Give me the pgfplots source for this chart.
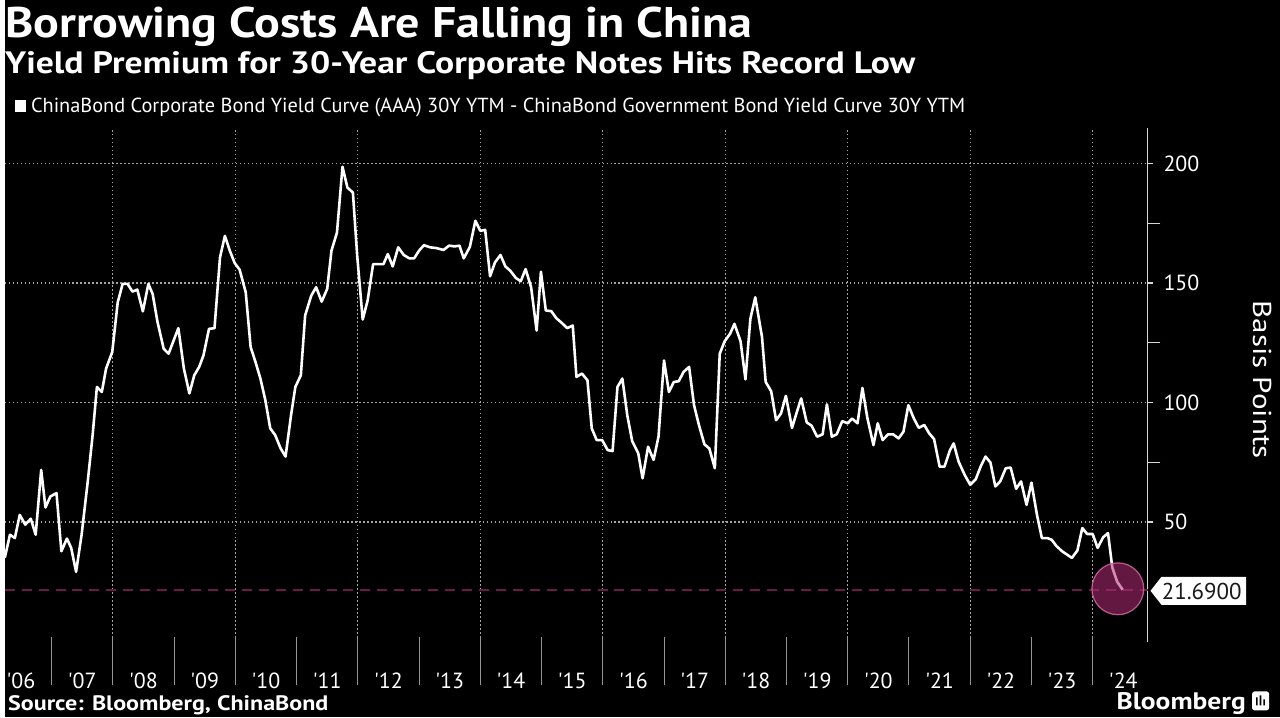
\documentclass[border=0pt]{standalone}
\usepackage{fontspec}
\setmainfont{PT Sans}
\newfontfamily\titlefont[FakeStretch=1.12]{PT Sans}
\newfontfamily\subfont[FakeStretch=1.155]{PT Sans}
\newfontfamily\srcfont[FakeStretch=1.15]{PT Sans}
\newfontfamily\axlabfont[FakeStretch=1.2]{PT Sans}
\usepackage{pgfplots}
\pgfplotsset{compat=1.18}
\definecolor{gridc}{RGB}{165,165,165}
\definecolor{sepc}{RGB}{150,150,150}
\definecolor{refc}{RGB}{105,28,68}
\definecolor{circfill}{RGB}{180,45,120}
\definecolor{circedge}{RGB}{210,105,160}
\definecolor{axc}{RGB}{215,215,215}
\begin{document}
\begin{tikzpicture}
\fill[black] (0pt,0pt) rectangle (640pt,360pt);
\node[anchor=base west, text=white, font=\titlefont\bfseries\fontsize{21.5}{24}\selectfont, inner sep=0] at (0pt,341pt) {Borrowing Costs Are Falling in China};
\node[anchor=base west, text=white, font=\subfont\bfseries\fontsize{15.5}{18}\selectfont, inner sep=0] at (0pt,323pt) {Yield Premium for 30-Year Corporate Notes Hits Record Low};
\fill[white] (5pt,304pt) rectangle (10.5pt,310pt);
\node[anchor=base west, text=white, font=\fontsize{10.2}{12}\selectfont, inner sep=0] at (13pt,303.5pt) {ChinaBond Corporate Bond Yield Curve (AAA) 30Y YTM - ChinaBond Government Bond Yield Curve 30Y YTM};
\begin{axis}[
  at={(0pt,38pt)}, anchor=south west, scale only axis,
  width=573.5pt, height=258pt,
  xmin=2006.235, xmax=2024.895, ymin=0, ymax=215,
  axis x line*=bottom, axis y line*=right,
  x axis line style={draw=none},
  y axis line style={axc, line width=0.6pt},
  tick align=outside,
  major tick length=3pt, minor tick length=6.5pt,
  tick style={axc, line width=0.6pt},
  xtick style={draw=none},
  ytick={50,100,150,200},
  minor ytick={75,125,175},
  xtick={2006.5,2007.5,2008.5,2009.5,2010.5,2011.5,2012.5,2013.5,2014.5,2015.5,2016.5,2017.5,2018.5,2019.5,2020.5,2021.5,2022.5,2023.5,2024.5},
  xticklabels={\textquotesingle06,\textquotesingle07,\textquotesingle08,\textquotesingle09,\textquotesingle10,\textquotesingle11,\textquotesingle12,\textquotesingle13,\textquotesingle14,\textquotesingle15,\textquotesingle16,\textquotesingle17,\textquotesingle18,\textquotesingle19,\textquotesingle20,\textquotesingle21,\textquotesingle22,\textquotesingle23,\textquotesingle24},
  ymajorgrids,
  major grid style={gridc, line width=0.65pt, dash pattern=on 0.75pt off 1.25pt},
  /pgf/number format/assume math mode=true,
  yticklabel style={text=white, font=\fontsize{11}{13}\selectfont, xshift=1.5pt},
  xticklabel style={text=white, font=\fontsize{11}{13}\selectfont, anchor=center, yshift=-16.5pt},
  clip=false,
]
\pgfplotsinvokeforeach{2008,2010,2012,2014,2016,2018,2020,2022,2024}{
  \draw[gridc, line width=0.65pt, dash pattern=on 0.75pt off 1.25pt] (axis cs:#1,0) -- (axis cs:#1,215);
}
\pgfplotsinvokeforeach{2007,2008,2009,2010,2011,2012,2013,2014,2015,2016,2017,2018,2019,2020,2021,2022,2023,2024}{
  \draw[sepc, line width=0.5pt] (axis cs:#1,2) -- ([yshift=-24pt]axis cs:#1,2);
}
\addplot[refc, line width=1pt, dash pattern=on 5pt off 3.5pt] coordinates {(2006.235,21.69) (2024.895,21.69)};
\addplot[white, line width=1.3pt, line join=round] table {
2006.235 35
2006.32 44.7
2006.40 43.3
2006.48 53
2006.57 48.9
2006.66 51.4
2006.74 44.7
2006.83 71.8
2006.90 56.1
2006.98 60.7
2007.08 62.1
2007.16 37.8
2007.25 43.1
2007.32 39.2
2007.40 29.2
2007.49 44.7
2007.59 66.9
2007.67 86.4
2007.74 106.5
2007.82 104.4
2007.89 114.2
2007.99 121.1
2008.08 141.9
2008.16 149.6
2008.24 149.6
2008.32 146.4
2008.40 147.2
2008.49 138.1
2008.58 149.6
2008.65 145.4
2008.73 133.6
2008.83 122.5
2008.91 120.4
2009.07 131.1
2009.16 114.2
2009.25 103.8
2009.33 111.4
2009.41 114.9
2009.48 119.7
2009.57 130.8
2009.66 131.1
2009.75 160.7
2009.83 169.7
2009.91 163.5
2009.99 158.3
2010.07 155.6
2010.17 146.1
2010.25 123.2
2010.33 116.9
2010.41 110
2010.49 101
2010.57 89.2
2010.65 86.4
2010.74 80.8
2010.82 77.4
2010.91 94.7
2010.98 106.5
2011.07 111.4
2011.14 136.4
2011.24 144.7
2011.32 148.2
2011.41 142.2
2011.50 147.5
2011.57 163.5
2011.66 171.1
2011.75 198.6
2011.83 189.9
2011.92 187.8
2011.99 161.4
2012.08 134.7
2012.16 142.6
2012.25 157.9
2012.34 157.9
2012.42 157.9
2012.49 162.1
2012.57 156.9
2012.66 164.9
2012.75 161.7
2012.84 160.3
2012.92 160.3
2013.00 163.5
2013.08 165.8
2013.18 164.9
2013.28 164.6
2013.40 163.8
2013.49 165.6
2013.58 165.3
2013.66 165.6
2013.73 160.3
2013.83 165.1
2013.92 176
2014.00 171.8
2014.08 172.2
2014.16 152.8
2014.24 158.6
2014.33 161.7
2014.41 156.9
2014.49 155.1
2014.58 152.1
2014.66 150.7
2014.74 155.8
2014.83 148.2
2014.92 130.1
2014.99 154.7
2015.07 138.5
2015.16 138.2
2015.24 135.3
2015.33 133.3
2015.42 131.1
2015.51 132.2
2015.57 110.7
2015.66 112.1
2015.75 109.3
2015.82 89.2
2015.90 84.3
2015.99 84.3
2016.08 80.1
2016.16 79.7
2016.24 106.5
2016.32 110
2016.40 94.7
2016.48 83.9
2016.58 78.7
2016.65 68.3
2016.74 81.5
2016.83 76
2016.91 85.7
2017.00 117.6
2017.08 104.4
2017.16 108.6
2017.24 108.9
2017.32 112.8
2017.41 114.9
2017.49 98.9
2017.57 90.6
2017.66 82.5
2017.74 80.8
2017.83 72.5
2017.91 120.4
2017.99 125.6
2018.08 128.8
2018.15 132.9
2018.25 125.6
2018.33 109.7
2018.41 135
2018.49 144
2018.60 127.4
2018.66 108.6
2018.75 104.7
2018.83 92.6
2018.91 95.4
2018.99 102.8
2019.09 89.4
2019.17 96.1
2019.24 101.7
2019.33 91.7
2019.41 90.3
2019.50 85.7
2019.59 86.7
2019.66 99.2
2019.74 85.7
2019.82 86.7
2019.91 92.2
2020.00 91.3
2020.07 93.3
2020.16 91.3
2020.24 106.1
2020.32 93.6
2020.42 82.2
2020.49 91.3
2020.57 84.3
2020.66 86.7
2020.74 86.7
2020.83 85
2020.91 87.8
2020.99 98.9
2021.08 93.3
2021.16 89.4
2021.25 90.6
2021.33 87.1
2021.41 84.7
2021.50 73.2
2021.58 73.2
2021.67 80.1
2021.73 82.9
2021.81 75.3
2021.91 69.7
2022.00 65.6
2022.09 67.9
2022.17 73.2
2022.25 77.4
2022.33 74.9
2022.41 64.9
2022.49 67
2022.58 72.5
2022.66 72.8
2022.75 63.9
2022.83 67
2022.92 57.2
2023.00 66.5
2023.09 53
2023.17 43.3
2023.26 43.3
2023.33 42.6
2023.41 39.9
2023.50 37.8
2023.58 36.4
2023.66 35
2023.75 38.1
2023.83 47.5
2023.91 45
2024.00 45
2024.08 39.2
2024.17 43.6
2024.25 45.4
2024.32 31
2024.40 25
2024.49 21.69
};
\addplot[only marks, mark=*, mark size=13pt, mark options={fill=circfill, fill opacity=0.55, draw=circedge, draw opacity=0.85, line width=0.6pt}] coordinates {(2024.41,22.1)};
\end{axis}
\fill[white] (575pt,63.5pt) -- (580.5pt,70.5pt) -- (623pt,70.5pt) -- (623pt,56.5pt) -- (580.5pt,56.5pt) -- cycle;
\node[anchor=west, inner sep=0, text={rgb,255:red,25;green,25;blue,25}, font=\fontsize{11.5}{13}\selectfont] at (580.5pt,63.3pt) {21.6900};
\node[rotate=-90, text=white, font=\axlabfont\fontsize{13}{15}\selectfont, inner sep=0] at (631pt,169.5pt) {Basis Points};
\node[anchor=base west, text=white, font=\srcfont\bfseries\fontsize{10.5}{12}\selectfont, inner sep=0] at (1.5pt,3.5pt) {Source: Bloomberg, ChinaBond};
\node[anchor=base east, text=white, font=\srcfont\bfseries\fontsize{12}{14}\selectfont, inner sep=0] at (623pt,4pt) {Bloomberg};
\fill[white, rounded corners=1.2pt] (626pt,3.5pt) rectangle (634.5pt,13pt);
\fill[black] (628pt,6pt) rectangle (628.8pt,10pt) (629.8pt,6pt) rectangle (630.6pt,11pt) (631.6pt,6pt) rectangle (632.4pt,9pt);
\end{tikzpicture}
\end{document}
